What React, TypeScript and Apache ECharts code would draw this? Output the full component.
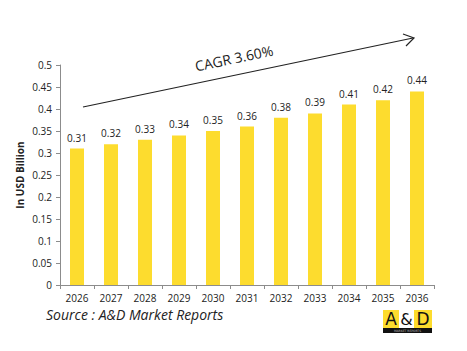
import React, { useEffect, useRef } from "react";
import * as echarts from "echarts";

const years = ["2026", "2027", "2028", "2029", "2030", "2031", "2032", "2033", "2034", "2035", "2036"];
const values = [0.31, 0.32, 0.33, 0.34, 0.35, 0.36, 0.38, 0.39, 0.41, 0.42, 0.44];
const yTicks = { min: 0, max: 0.5, interval: 0.05 };
const cagrText = "CAGR 3.60%";
const yAxisTitle = "In USD Billion";
const sourceText = "Source : A&D Market Reports";

const FONT = "Open Sans";

export default function App() {
  const ref = useRef<HTMLDivElement>(null);
  useEffect(() => {
    if (!ref.current) return;
    const chart = echarts.init(ref.current, null, { renderer: "svg" });
    chart.setOption({
      animation: false,
      backgroundColor: "#ffffff",
      grid: { left: 60, top: 65, width: 374, height: 220, containLabel: false },
      xAxis: {
        type: "category",
        data: years,
        axisLine: { lineStyle: { color: "#8c8c8c" } },
        axisTick: { show: true, alignWithLabel: false, length: 4, lineStyle: { color: "#8c8c8c" } },
        axisLabel: { color: "#222", fontSize: 10, fontFamily: FONT, margin: 8 },
      },
      yAxis: {
        type: "value",
        min: yTicks.min,
        max: yTicks.max,
        interval: yTicks.interval,
        name: yAxisTitle,
        nameLocation: "middle",
        nameGap: 35,
        nameMoveOverlap: false,
        nameTextStyle: { fontSize: 10, fontWeight: "bold", fontFamily: FONT, color: "#222" },
        axisLine: { show: true, lineStyle: { color: "#8c8c8c" } },
        axisTick: { show: true, length: 4, lineStyle: { color: "#8c8c8c" } },
        splitLine: { show: false },
        axisLabel: {
          color: "#222",
          fontSize: 10,
          fontFamily: FONT,
          margin: 8,
          formatter: (v: number) => String(parseFloat(v.toFixed(2))),
        },
      },
      series: [
        {
          type: "bar",
          data: values,
          barWidth: 14,
          itemStyle: { color: "#FDDC2E" },
          label: {
            show: true,
            position: "top",
            distance: 6,
            color: "#222",
            fontSize: 10,
            fontFamily: FONT,
          },
        },
      ],
      graphic: [
        {
          type: "line",
          shape: { x1: 83, y1: 107, x2: 413, y2: 38 },
          style: { stroke: "#222", lineWidth: 1.2 },
        },
        {
          type: "polyline",
          shape: { points: [[403, 34], [414, 38], [406, 46]] },
          style: { stroke: "#222", lineWidth: 1.2, fill: null },
        },
        {
          type: "text",
          x: 234,
          y: 58,
          rotation: (11.8 * Math.PI) / 180,
          style: {
            text: cagrText,
            fontSize: 14,
            fontFamily: FONT,
            fill: "#222",
            align: "center",
            verticalAlign: "middle",
          },
        },
        {
          type: "text",
          left: 46,
          top: 307,
          style: {
            text: sourceText,
            fontSize: 14,
            fontStyle: "italic",
            fontFamily: FONT,
            fill: "#222",
          },
        },
        {
          type: "group",
          left: 383,
          top: 310,
          children: [
            { type: "rect", shape: { x: 0, y: 0, width: 16, height: 18 }, style: { fill: "#FDDC2E" } },
            { type: "rect", shape: { x: 16, y: 0, width: 15, height: 18 }, style: { fill: "#ffffff" } },
            { type: "rect", shape: { x: 31, y: 0, width: 18, height: 18 }, style: { fill: "#FDDC2E" } },
            { type: "rect", shape: { x: 0, y: 18, width: 49, height: 5 }, style: { fill: "#111" } },
            {
              type: "text",
              x: 8,
              y: 9,
              style: { text: "A", fontSize: 17, fontFamily: "DejaVu Sans", fill: "#111", align: "center", verticalAlign: "middle" },
            },
            {
              type: "text",
              x: 23.5,
              y: 9,
              style: { text: "&", fontSize: 16, fontFamily: "DejaVu Sans", fill: "#111", align: "center", verticalAlign: "middle" },
            },
            {
              type: "text",
              x: 40,
              y: 9,
              style: { text: "D", fontSize: 17, fontFamily: "DejaVu Sans", fill: "#111", align: "center", verticalAlign: "middle" },
            },
            {
              type: "text",
              x: 24.5,
              y: 20.5,
              style: { text: "MARKET REPORTS", fontSize: 3, fontFamily: "DejaVu Sans", fill: "#bbb", align: "center", verticalAlign: "middle" },
            },
          ],
        },
      ],
    });
    return () => chart.dispose();
  }, []);
  return (
    <div
      ref={ref}
      style={{ position: "fixed", left: 0, top: 0, width: 467, height: 351 }}
    />
  );
}
